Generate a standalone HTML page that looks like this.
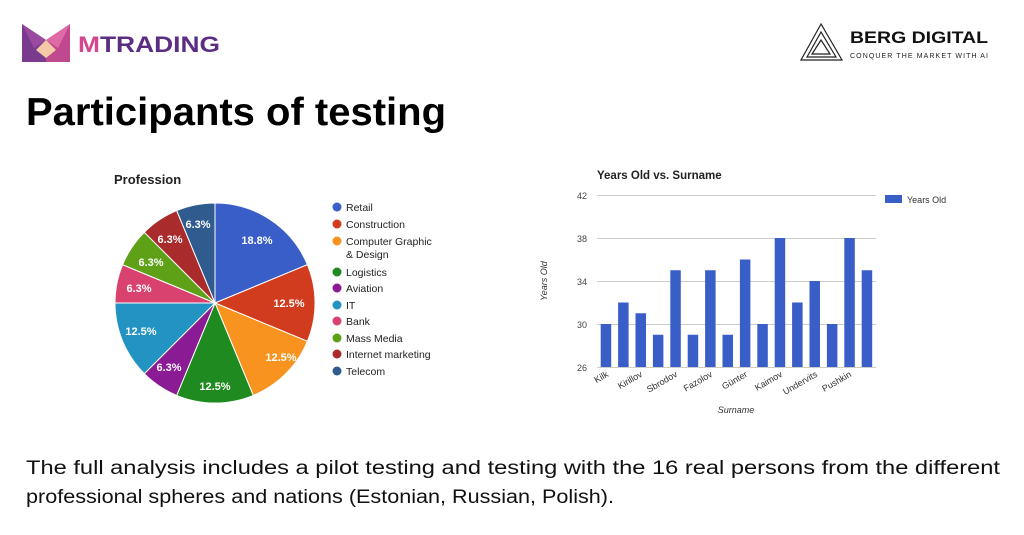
<!DOCTYPE html>
<html><head><meta charset="utf-8"><style>
html,body{margin:0;padding:0;background:#fff;width:1024px;height:535px;overflow:hidden}
svg{display:block;font-family:"Liberation Sans",Arial,sans-serif}
</style></head><body>
<svg width="1024" height="535" viewBox="0 0 1024 535" xmlns="http://www.w3.org/2000/svg">
<!-- MTRADING logo -->
<polygon points="22,24 46,40 46,62 22,62" fill="#7a3b8f"/>
<polygon points="70,24 46,40 46,62 70,62" fill="#c0488e"/>
<polygon points="22,24 46,40 34,48" fill="#9a4aa0"/>
<polygon points="70,24 46,40 58,48" fill="#e06aa8"/>
<polygon points="36,50 46,40 56,50 46,58" fill="#f3c9a8"/>
<text x="78" y="52" font-size="22" font-weight="bold" fill="#5b2d83" textLength="142" lengthAdjust="spacingAndGlyphs"><tspan fill="#d6458f">M</tspan>TRADING</text>
<!-- BERG logo -->
<g fill="none" stroke="#222" stroke-width="1.2">
<polygon points="821,24 801,60 842,60"/>
<polygon points="821,32 807,57 836,57"/>
<polygon points="821,40 812,54 830,54"/>
</g>
<text x="850" y="43" font-size="17" font-weight="bold" fill="#111" textLength="138" lengthAdjust="spacingAndGlyphs">BERG DIGITAL</text>
<text x="850" y="58" font-size="7" fill="#222" textLength="138" lengthAdjust="spacing">CONQUER THE MARKET WITH AI</text>
<!-- Title -->
<text x="26" y="125" font-size="39" font-weight="bold" fill="#000" textLength="420" lengthAdjust="spacingAndGlyphs">Participants of testing</text>

<!-- Pie -->
<text x="114" y="184" font-size="13" font-weight="bold" fill="#222">Profession</text>
<g stroke="#fff" stroke-width="1">
<path d="M215,303 L215,203 A100,100 0 0 1 307.4,264.7 Z" fill="#3a5ec8"/>
<path d="M215,303 L307.4,264.7 A100,100 0 0 1 307.4,341.3 Z" fill="#d13c1e"/>
<path d="M215,303 L307.4,341.3 A100,100 0 0 1 253.3,395.4 Z" fill="#f7931e"/>
<path d="M215,303 L253.3,395.4 A100,100 0 0 1 176.7,395.4 Z" fill="#1f8a1f"/>
<path d="M215,303 L176.7,395.4 A100,100 0 0 1 144.3,373.7 Z" fill="#8a1b94"/>
<path d="M215,303 L144.3,373.7 A100,100 0 0 1 115,303 Z" fill="#2293c3"/>
<path d="M215,303 L115,303 A100,100 0 0 1 122.6,264.7 Z" fill="#d9426f"/>
<path d="M215,303 L122.6,264.7 A100,100 0 0 1 144.3,232.3 Z" fill="#5ea117"/>
<path d="M215,303 L144.3,232.3 A100,100 0 0 1 176.7,210.6 Z" fill="#a92b2b"/>
<path d="M215,303 L176.7,210.6 A100,100 0 0 1 215,203 Z" fill="#2f5b8e"/>
</g>
<g font-size="11" font-weight="bold" fill="#fff" text-anchor="middle">
<text x="257" y="244">18.8%</text>
<text x="289" y="307">12.5%</text>
<text x="281" y="361">12.5%</text>
<text x="215" y="390">12.5%</text>
<text x="169" y="371">6.3%</text>
<text x="141" y="335">12.5%</text>
<text x="139" y="292">6.3%</text>
<text x="151" y="266">6.3%</text>
<text x="170" y="243">6.3%</text>
<text x="198" y="228">6.3%</text>
</g>
<g font-size="10.5" fill="#222">
<circle cx="337" cy="207" r="4.5" fill="#3a5ec8"/><text x="346" y="211">Retail</text>
<circle cx="337" cy="224" r="4.5" fill="#d13c1e"/><text x="346" y="228">Construction</text>
<circle cx="337" cy="241" r="4.5" fill="#f7931e"/><text x="346" y="245">Computer Graphic</text><text x="346" y="258">&amp; Design</text>
<circle cx="337" cy="272" r="4.5" fill="#1f8a1f"/><text x="346" y="276">Logistics</text>
<circle cx="337" cy="288" r="4.5" fill="#8a1b94"/><text x="346" y="292">Aviation</text>
<circle cx="337" cy="305" r="4.5" fill="#2293c3"/><text x="346" y="309">IT</text>
<circle cx="337" cy="321" r="4.5" fill="#d9426f"/><text x="346" y="325">Bank</text>
<circle cx="337" cy="338" r="4.5" fill="#5ea117"/><text x="346" y="342">Mass Media</text>
<circle cx="337" cy="354" r="4.5" fill="#a92b2b"/><text x="346" y="358">Internet marketing</text>
<circle cx="337" cy="371" r="4.5" fill="#2f5b8e"/><text x="346" y="375">Telecom</text>
</g>

<!-- Bar chart -->
<text x="597" y="179" font-size="11.5" font-weight="bold" fill="#222">Years Old vs. Surname</text>
<g stroke="#ccc" stroke-width="1">
<line x1="597" y1="195.5" x2="876" y2="195.5"/>
<line x1="597" y1="238.5" x2="876" y2="238.5"/>
<line x1="597" y1="281.5" x2="876" y2="281.5"/>
<line x1="597" y1="324.5" x2="876" y2="324.5"/>
<line x1="597" y1="367.5" x2="876" y2="367.5"/>
</g>
<g font-size="9" fill="#444" text-anchor="end">
<text x="587" y="199">42</text><text x="587" y="242">38</text><text x="587" y="285">34</text><text x="587" y="328">30</text><text x="587" y="371">26</text>
</g>
<g fill="#3a5ec8">
<rect x="600.7" y="324" width="10.5" height="43"/>
<rect x="618.1" y="302.5" width="10.5" height="64.5"/>
<rect x="635.5" y="313.25" width="10.5" height="53.75"/>
<rect x="652.9" y="334.75" width="10.5" height="32.25"/>
<rect x="670.3" y="270.25" width="10.5" height="96.75"/>
<rect x="687.7" y="334.75" width="10.5" height="32.25"/>
<rect x="705.1" y="270.25" width="10.5" height="96.75"/>
<rect x="722.5" y="334.75" width="10.5" height="32.25"/>
<rect x="739.9" y="259.5" width="10.5" height="107.5"/>
<rect x="757.3" y="324" width="10.5" height="43"/>
<rect x="774.7" y="238" width="10.5" height="129"/>
<rect x="792.1" y="302.5" width="10.5" height="64.5"/>
<rect x="809.5" y="281" width="10.5" height="86"/>
<rect x="826.9" y="324" width="10.5" height="43"/>
<rect x="844.3" y="238" width="10.5" height="129"/>
<rect x="861.7" y="270.25" width="10.5" height="96.75"/>
</g>
<rect x="885" y="195" width="17" height="8" fill="#3a5ec8"/>
<text x="907" y="203" font-size="9" fill="#333">Years Old</text>
<text transform="translate(547,281) rotate(-90)" font-size="9" font-style="italic" fill="#333" text-anchor="middle">Years Old</text>
<g font-size="9" fill="#333" text-anchor="end">
<text transform="translate(609,376) rotate(-30)">Kilk</text>
<text transform="translate(643,376) rotate(-30)">Kirillov</text>
<text transform="translate(678,376) rotate(-30)">Sbrodov</text>
<text transform="translate(713,376) rotate(-30)">Fazolov</text>
<text transform="translate(748,376) rotate(-30)">Günter</text>
<text transform="translate(783,376) rotate(-30)">Kaimov</text>
<text transform="translate(818,376) rotate(-30)">Undervits</text>
<text transform="translate(852,376) rotate(-30)">Pushkin</text>
</g>
<text x="736" y="413" font-size="9" font-style="italic" fill="#333" text-anchor="middle">Surname</text>

<!-- Paragraph -->
<text x="26" y="474" font-size="19" fill="#111" textLength="974" lengthAdjust="spacingAndGlyphs">The full analysis includes a pilot testing and testing with the 16 real persons from the different</text>
<text x="26" y="503" font-size="19" fill="#111" textLength="588" lengthAdjust="spacingAndGlyphs">professional spheres and nations (Estonian, Russian, Polish).</text>
</svg>
</body></html>
